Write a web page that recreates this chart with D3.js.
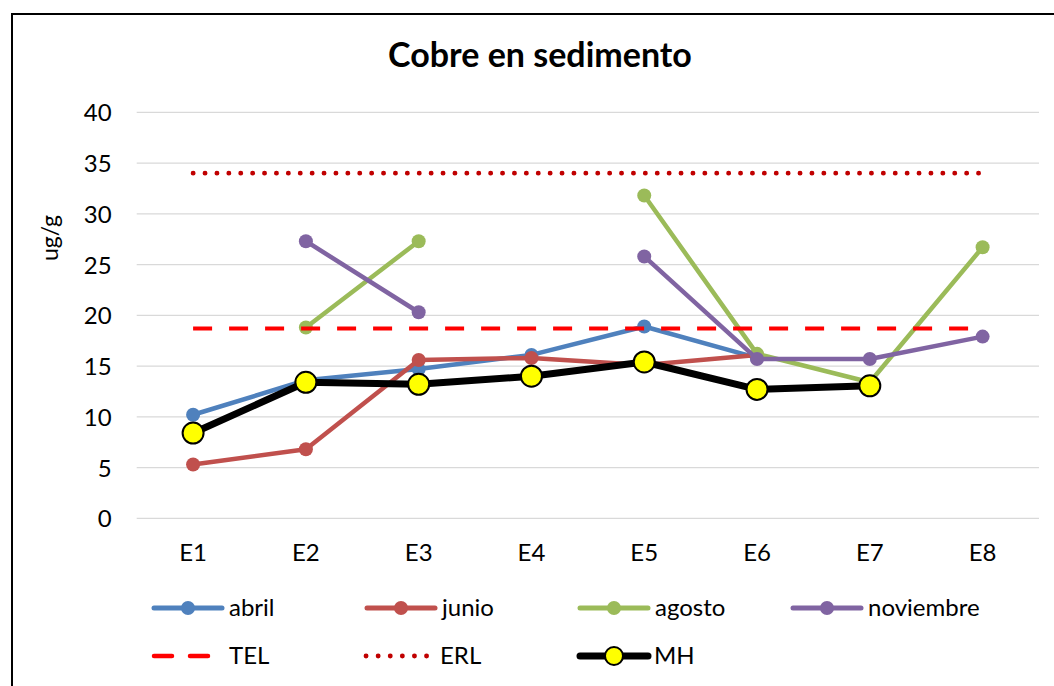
<!DOCTYPE html>
<html>
<head>
<meta charset="utf-8">
<script src="https://cdn.jsdelivr.net/npm/d3@7"></script>
<style>
  html, body { margin: 0; padding: 0; background: #fff; }
  svg { display: block; font-family: "Lato", "Open Sans", sans-serif; }
</style>
</head>
<body>
<svg id="chart" width="1054" height="686"></svg>
<script>
const categories = ["E1", "E2", "E3", "E4", "E5", "E6", "E7", "E8"];
const abril     = [10.2, 13.6, 14.7, 16.1, 18.9, 15.8, null, null];
const junio     = [5.3, 6.8, 15.6, 15.8, 15.1, 16.1, null, null];
const agosto    = [null, 18.8, 27.3, null, 31.8, 16.2, 13.4, 26.7];
const noviembre = [null, 27.3, 20.3, null, 25.8, 15.7, 15.7, 17.9];
const TEL       = [18.7, 18.7, 18.7, 18.7, 18.7, 18.7, 18.7, 18.7];
const ERL       = [34, 34, 34, 34, 34, 34, 34, 34];
const MH        = [8.4, 13.4, 13.2, 14.0, 15.4, 12.7, 13.05, null];
const yTicks    = [0, 5, 10, 15, 20, 25, 30, 35, 40];
const seriesNames = ["abril", "junio", "agosto", "noviembre", "TEL", "ERL", "MH"];

(function () {
const svg = d3.select("#chart");
const FONT = "Lato, 'Open Sans', sans-serif";

// outer frame (chart area border, cropped on right/bottom)
svg.append("path")
  .attr("d", "M12,700 L12,14 L1060,14")
  .attr("fill", "none").attr("stroke", "#000").attr("stroke-width", 2);

const pL = 136.7, pR = 1039, pT = 112.3, pB = 518.3;
const x = d3.scaleBand().domain(categories).range([pL, pR]);
const y = d3.scaleLinear().domain([0, 40]).range([pB, pT]);
const cx = c => x(c) + x.bandwidth() / 2;

// gridlines
svg.append("g").selectAll("line").data(yTicks).join("line")
  .attr("x1", pL).attr("x2", pR)
  .attr("y1", d => y(d)).attr("y2", d => y(d))
  .attr("stroke", "#d9d9d9").attr("stroke-width", 1.3);

// y axis labels
const yAxis = d3.axisLeft(y).tickValues(yTicks).tickSize(0).tickPadding(0);
const yg = svg.append("g").attr("transform", `translate(${pL - 25},0)`).call(yAxis);
yg.attr("font-size", 24).attr("font-family", FONT);
yg.select(".domain").remove();
yg.selectAll("text").attr("fill", "#000").attr("dy", "0.36em");

// x axis labels
const xAxis = d3.axisBottom(x).tickSize(0).tickPadding(0);
const xg = svg.append("g").attr("transform", `translate(0,${pB + 34})`).call(xAxis);
xg.attr("font-size", 24).attr("font-family", FONT);
xg.select(".domain").remove();
xg.selectAll("text").attr("fill", "#000").attr("dy", "0.36em");

// title
svg.append("text").attr("x", 540).attr("y", 67).attr("text-anchor", "middle")
  .attr("font-size", 34).attr("font-weight", "bold").attr("fill", "#000")
  .text("Cobre en sedimento");

// y label
svg.append("text").attr("transform", "translate(58,238) rotate(-90)")
  .attr("text-anchor", "middle").attr("font-size", 23).attr("font-weight", "normal")
  .attr("font-family", FONT).attr("fill", "#000")
  .text("ug/g");

const lineGen = d3.line()
  .defined(d => d.v !== null)
  .x(d => cx(d.c)).y(d => y(d.v));
const pts = arr => categories.map((c, i) => ({ c, v: arr[i] }));

const monthSeries = [
  { name: "abril", data: abril, color: "#4F81BD" },
  { name: "junio", data: junio, color: "#C0504D" },
  { name: "agosto", data: agosto, color: "#9BBB59" },
  { name: "noviembre", data: noviembre, color: "#8064A2" }
];

monthSeries.forEach(s => {
  const g = svg.append("g");
  g.append("path").datum(pts(s.data)).attr("d", lineGen)
    .attr("fill", "none").attr("stroke", s.color).attr("stroke-width", 4.5)
    .attr("stroke-linejoin", "round").attr("stroke-linecap", "round");
  g.selectAll("circle").data(pts(s.data).filter(d => d.v !== null)).join("circle")
    .attr("cx", d => cx(d.c)).attr("cy", d => y(d.v)).attr("r", 7)
    .attr("fill", s.color);
});

// TEL
svg.append("path").datum(pts(TEL)).attr("d", lineGen)
  .attr("fill", "none").attr("stroke", "#FF0000").attr("stroke-width", 4)
  .attr("stroke-dasharray", "19 17");
// ERL
svg.append("path").datum(pts(ERL)).attr("d", lineGen)
  .attr("fill", "none").attr("stroke", "#C00000").attr("stroke-width", 4.8)
  .attr("stroke-linecap", "round").attr("stroke-dasharray", "0.1 11.8");
// MH
const mh = svg.append("g");
mh.append("path").datum(pts(MH)).attr("d", lineGen)
  .attr("fill", "none").attr("stroke", "#000").attr("stroke-width", 7)
  .attr("stroke-linejoin", "round");
mh.selectAll("circle").data(pts(MH).filter(d => d.v !== null)).join("circle")
  .attr("cx", d => cx(d.c)).attr("cy", d => y(d.v)).attr("r", 10.5)
  .attr("fill", "#FFFF00").attr("stroke", "#000").attr("stroke-width", 2);

// legend
const legendItems = [
  { name: "abril", color: "#4F81BD", type: "marker", col: 0, row: 0 },
  { name: "junio", color: "#C0504D", type: "marker", col: 1, row: 0 },
  { name: "agosto", color: "#9BBB59", type: "marker", col: 2, row: 0 },
  { name: "noviembre", color: "#8064A2", type: "marker", col: 3, row: 0 },
  { name: "TEL", color: "#FF0000", type: "dash", col: 0, row: 1 },
  { name: "ERL", color: "#C00000", type: "dot", col: 1, row: 1 },
  { name: "MH", color: "#000", type: "mh", col: 2, row: 1 }
];
const colX = [152, 365, 578, 791];
const rowY = [608, 656];
const LFS = 24;
legendItems.forEach(it => {
  const g = svg.append("g").attr("transform", `translate(${colX[it.col]},${rowY[it.row]})`);
  if (it.type === "marker") {
    g.append("line").attr("x1", 2).attr("x2", 70).attr("stroke", it.color)
      .attr("stroke-width", 5).attr("stroke-linecap", "round");
    g.append("circle").attr("cx", 36).attr("r", 7).attr("fill", it.color);
    g.append("text").attr("x", 77).attr("dy", "0.35em").attr("font-size", LFS).text(it.name);
  } else if (it.type === "dash") {
    g.append("line").attr("x1", 2).attr("x2", 70).attr("stroke", it.color)
      .attr("stroke-width", 4.5).attr("stroke-dasharray", "18 18").attr("stroke-linecap", "round");
    g.append("text").attr("x", 77).attr("dy", "0.35em").attr("font-size", LFS).text(it.name);
  } else if (it.type === "dot") {
    g.append("line").attr("x1", 1).attr("x2", 62).attr("stroke", it.color)
      .attr("stroke-width", 4.8).attr("stroke-dasharray", "0.1 12").attr("stroke-linecap", "round");
    g.append("text").attr("x", 75).attr("dy", "0.35em").attr("font-size", LFS).text(it.name);
  } else {
    g.append("line").attr("x1", 2).attr("x2", 70).attr("stroke", "#000")
      .attr("stroke-width", 7).attr("stroke-linecap", "round");
    g.append("circle").attr("cx", 36).attr("r", 9).attr("fill", "#FFFF00")
      .attr("stroke", "#000").attr("stroke-width", 2);
    g.append("text").attr("x", 76).attr("dy", "0.35em").attr("font-size", LFS).text(it.name);
  }
});
})();
</script>
</body>
</html>
